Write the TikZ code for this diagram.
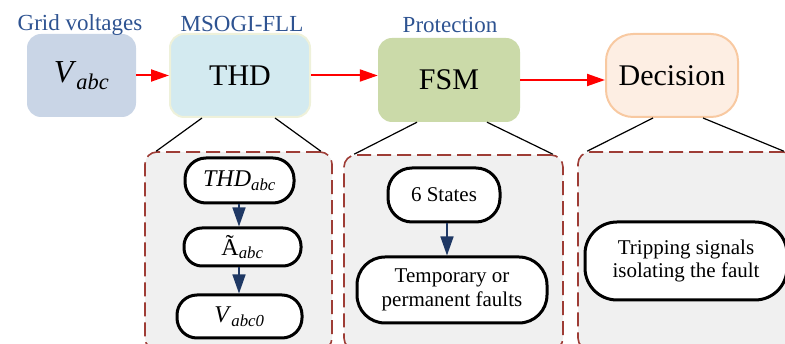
\documentclass[tikz,border=0pt]{standalone}
\usepackage{fontspec}
\setmainfont{Liberation Serif}
\usepackage{xcolor}
\usetikzlibrary{arrows.meta,positioning}
\definecolor{gridfill}{HTML}{C9D5E6}
\definecolor{thdfill}{HTML}{D3EAF0}
\definecolor{thdline}{HTML}{EEF1DA}
\definecolor{fsmfill}{HTML}{CBDAA9}
\definecolor{decfill}{HTML}{FDEEE3}
\definecolor{decline}{HTML}{F8C9A1}
\definecolor{titleblue}{HTML}{2E5391}
\definecolor{dashred}{HTML}{9E3D36}
\definecolor{stagegray}{HTML}{F0F0F0}
\definecolor{navyarrow}{HTML}{1F3864}

\begin{document}
\begin{tikzpicture}[
    x=1pt,y=-1pt,
    block/.style={rectangle,rounded corners=14pt,align=center,inner sep=0pt,font=\fontsize{30}{34}\selectfont},
    title/.style={anchor=base,text=titleblue,inner sep=0pt,font=\fontsize{23}{27}\selectfont},
    stage/.style={rectangle,draw=dashred,fill=stagegray,line width=1.6pt,dash pattern=on 14pt off 6pt,rounded corners=12pt,inner sep=0pt},
    pill/.style={rectangle,draw,fill=white,line width=3pt,rounded corners=18pt,align=center,inner sep=0pt,font=\fontsize{21}{23.5}\selectfont},
    flow/.style={-{Triangle[length=18pt,width=12pt]},red,line width=2pt},
    substep/.style={-{Triangle[length=19pt,width=13pt]},navyarrow,line width=1.5pt},
    link/.style={black,line width=1.2pt}
]
\clip (0,0) rectangle (785,344);
\node[block,fill=gridfill,minimum width=109pt,minimum height=83pt] (vabc) at (81.5,75.5) {\fontsize{32}{36}\selectfont\textit{V}\textsubscript{\textit{abc}}};
\node[block,fill=thdfill,draw=thdline,line width=2pt,minimum width=140pt,minimum height=83pt] (thd) at (240,75.5) {THD};
\node[block,fill=fsmfill,minimum width=142pt,minimum height=84pt] (fsm) at (449,80) {FSM};
\node[block,fill=decfill,draw=decline,line width=2pt,rounded corners=27pt,minimum width=132pt,minimum height=83pt] (decision) at (672,75.5) {Decision};
\node[title] (gridlbl) at (80,31) {Grid voltages};
\node[title] (msogilbl) at (242,31.5) {MSOGI-FLL};
\node[title] (protlbl) at (450,33) {Protection};
\draw[flow] (vabc) -- (thd);
\draw[flow] (thd.east) -- (fsm.west |- thd.east);
\draw[flow] (fsm.east) -- (decision.west |- fsm.east);

\node[stage,minimum width=187pt,minimum height=198pt] (thdstage) at (238.5,251) {};
\node[stage,minimum width=219pt,minimum height=195pt] (fsmstage) at (453.5,252.5) {};
\node[stage,minimum width=217pt,minimum height=198pt] (decstage) at (686.5,251) {};
\draw[link] ([xshift=-38pt]thd.south) -- ([xshift=12pt]thdstage.north west);
\draw[link] ([xshift=35pt]thd.south) -- ([xshift=-12pt]thdstage.north east);
\draw[link] ([xshift=-32pt]fsm.south) -- ([xshift=11pt]fsmstage.north west);
\draw[link] ([xshift=38pt]fsm.south) -- ([xshift=-11pt]fsmstage.north east);
\draw[link] ([xshift=-19pt]decision.south) -- ([xshift=10pt]decstage.north west);
\draw[link] ([xshift=31pt]decision.south) -- ([xshift=-12pt]decstage.north east);

\node[pill,font=\fontsize{24}{28}\selectfont,minimum width=109pt,minimum height=45pt,rounded corners=21pt] (thdabc) at (239.5,180.5) {\textit{THD}\textsubscript{\textit{abc}}};
\node[pill,font=\fontsize{24}{28}\selectfont,minimum width=117pt,minimum height=38pt] (aabc) at (242.5,247) {Ã\textsubscript{\textit{abc}}};
\node[pill,font=\fontsize{24}{28}\selectfont,minimum width=125pt,minimum height=43pt,rounded corners=20pt] (vabczero) at (239.5,316.5) {\textit{V}\textsubscript{\textit{abc0}}};
\draw[substep] (thdabc.south -| 239,0) -- (aabc.north -| 239,0);
\draw[substep] (aabc.south -| 239,0) -- (vabczero.north -| 239,0);

\node[pill,minimum width=112pt,minimum height=54pt,rounded corners=24pt] (states) at (444,195) {6 States};
\node[pill,minimum width=190pt,minimum height=66pt,rounded corners=28pt] (faults) at (452,290) {Temporary or\\permanent faults};
\draw[substep] (states.south -| 447,0) -- (faults.north -| 447,0);

\node[pill,rounded corners=32pt,minimum width=202pt,minimum height=78pt] (tripping) at (686,261) {Tripping signals\\isolating the fault};
\end{tikzpicture}
\end{document}
